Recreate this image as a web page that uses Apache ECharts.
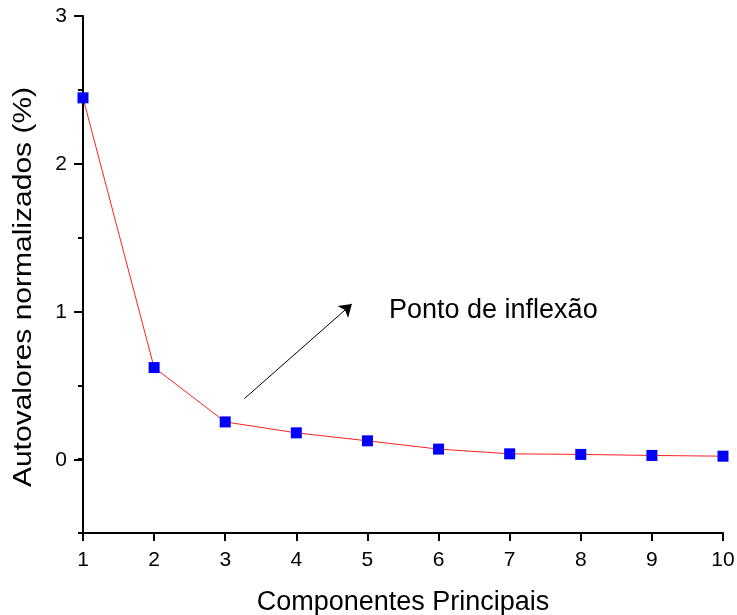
<!DOCTYPE html>
<html><head><meta charset="utf-8">
<script src="https://cdn.jsdelivr.net/npm/echarts@6/dist/echarts.min.js"></script>
<style>html,body{margin:0;padding:0;background:#fff}#c{width:737px;height:615px}</style>
</head><body><div id="c"></div>
<script>
const components = [1,2,3,4,5,6,7,8,9,10];
const eigenvalues = [2.446,0.62,0.252,0.178,0.124,0.068,0.036,0.032,0.025,0.02];
const yTickLabels = [0,1,2,3];
const arrowStart = [3.27, 0.41];
const arrowEnd = [4.78, 1.05];
const annotation = 'Ponto de inflexão';
const xTitle = 'Componentes Principais';
const yTitle = 'Autovalores normalizados (%)';

const FONT = '"Liberation Sans", Arial, sans-serif';
const chart = echarts.init(document.getElementById('c'));
chart.setOption({
  animation:false,
  grid:[
    {left:83, right:14, top:16, bottom:82, outerBoundsMode:'none', containLabel:false},
    {left:83, right:14, top:16, bottom:155, outerBoundsMode:'none', containLabel:false}
  ],
  xAxis:[
    {gridIndex:0, type:'value', min:1, max:10, interval:1,
     name:xTitle, nameLocation:'middle', nameGap:56,
     nameTextStyle:{fontFamily:FONT, fontSize:27, color:'#000'},
     axisLine:{onZero:false, lineStyle:{color:'#000', width:2}},
     axisTick:{inside:false, length:8, lineStyle:{color:'#000', width:2}},
     axisLabel:{fontFamily:FONT, fontSize:21, color:'#000', margin:17},
     splitLine:{show:false}},
    {gridIndex:1, type:'value', min:1, max:10, show:false}
  ],
  yAxis:[
    {gridIndex:0, type:'value', min:-0.5, max:3, interval:0.5,
     axisLine:{show:true, onZero:false, lineStyle:{color:'#000', width:2}},
     axisTick:{show:true, length:5, lineStyle:{color:'#000', width:2}},
     axisLabel:{show:false},
     splitLine:{show:false}},
    {gridIndex:1, type:'value', min:yTickLabels[0], max:yTickLabels[yTickLabels.length-1], interval:1,
     axisLine:{show:false, onZero:false},
     axisTick:{show:true, length:9, lineStyle:{color:'#000', width:2}},
     axisLabel:{fontFamily:FONT, fontSize:21, color:'#000', margin:16},
     splitLine:{show:false}}
  ],
  series:[{
    type:'line', xAxisIndex:0, yAxisIndex:0,
    data:components.map((c,i)=>[c, eigenvalues[i]]),
    symbol:'rect', symbolSize:11, clip:false,
    itemStyle:{color:'#0000ff'},
    lineStyle:{color:'#ff2020', width:1},
    markLine:{
      silent:true, symbol:['none','arrow'], symbolSize:12,
      lineStyle:{color:'#000', width:1, type:'solid'},
      label:{show:false},
      data:[[{coord:arrowStart},{coord:arrowEnd}]]
    }
  }],
  graphic:[
    {type:'text', x:389, y:311,
     style:{text:annotation, font:'27px '+FONT, fill:'#000', verticalAlign:'middle'}},
    {type:'text', x:24, y:287, rotation:Math.PI/2, scaleX:1.2,
     style:{text:yTitle, font:'25px '+FONT, fill:'#000', align:'center', verticalAlign:'middle'}}
  ]
});
</script></body></html>
